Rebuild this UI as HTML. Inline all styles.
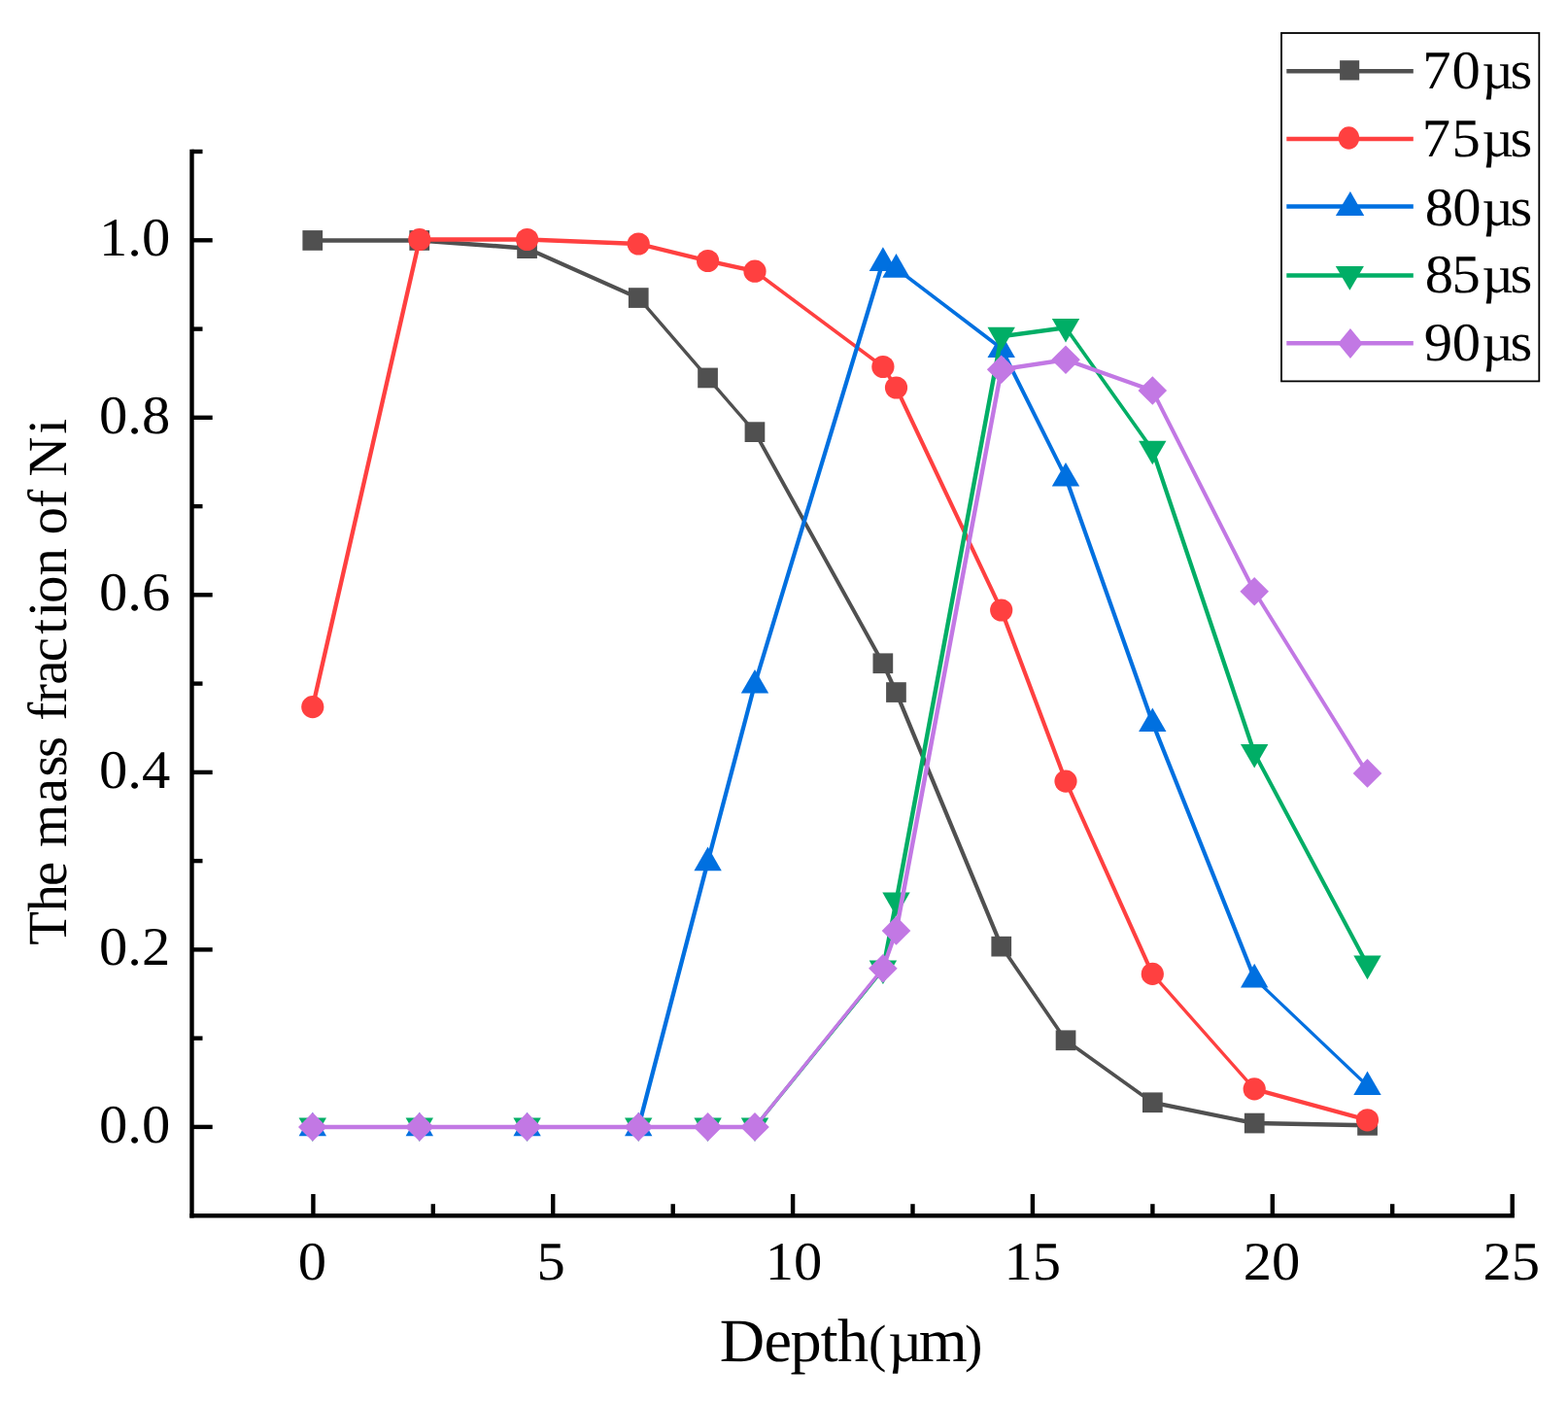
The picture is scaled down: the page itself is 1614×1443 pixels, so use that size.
<!DOCTYPE html>
<html><head><meta charset="utf-8"><title>The mass fraction of Ni vs Depth</title>
<style>html,body{margin:0;padding:0;background:#fff;overflow:hidden;}svg{display:block;}</style></head>
<body><svg width="1614" height="1443" viewBox="0 0 1614 1443">
<rect width="1614" height="1443" fill="#fff"/>
<g stroke="#000" stroke-width="4.4" fill="none">
<line x1="197.5" y1="153.8" x2="197.5" y2="1253.4"/>
<line x1="195.3" y1="1251.2" x2="1558.9" y2="1251.2"/>
<line x1="197.5" y1="1159.9" x2="218.7" y2="1159.9"/>
<line x1="197.5" y1="1068.6" x2="208.5" y2="1068.6"/>
<line x1="197.5" y1="977.4" x2="218.7" y2="977.4"/>
<line x1="197.5" y1="886.1" x2="208.5" y2="886.1"/>
<line x1="197.5" y1="794.9" x2="218.7" y2="794.9"/>
<line x1="197.5" y1="703.6" x2="208.5" y2="703.6"/>
<line x1="197.5" y1="612.3" x2="218.7" y2="612.3"/>
<line x1="197.5" y1="521.1" x2="208.5" y2="521.1"/>
<line x1="197.5" y1="429.8" x2="218.7" y2="429.8"/>
<line x1="197.5" y1="338.6" x2="208.5" y2="338.6"/>
<line x1="197.5" y1="247.3" x2="218.7" y2="247.3"/>
<line x1="197.5" y1="156.0" x2="208.5" y2="156.0"/>
<line x1="322.4" y1="1251.2" x2="322.4" y2="1229.0"/>
<line x1="445.8" y1="1251.2" x2="445.8" y2="1239.2"/>
<line x1="569.2" y1="1251.2" x2="569.2" y2="1229.0"/>
<line x1="692.7" y1="1251.2" x2="692.7" y2="1239.2"/>
<line x1="816.1" y1="1251.2" x2="816.1" y2="1229.0"/>
<line x1="939.5" y1="1251.2" x2="939.5" y2="1239.2"/>
<line x1="1062.9" y1="1251.2" x2="1062.9" y2="1229.0"/>
<line x1="1186.4" y1="1251.2" x2="1186.4" y2="1239.2"/>
<line x1="1309.8" y1="1251.2" x2="1309.8" y2="1229.0"/>
<line x1="1433.2" y1="1251.2" x2="1433.2" y2="1239.2"/>
<line x1="1556.7" y1="1251.2" x2="1556.7" y2="1229.0"/>
</g>
<text text-rendering="geometricPrecision" font-family="Liberation Serif, 'Times New Roman', serif" font-size="56.0" transform="translate(102.07,1175.90) scale(1.0455,1)" x="0.00 28.00 42.00" y="0">0.0</text>
<text text-rendering="geometricPrecision" font-family="Liberation Serif, 'Times New Roman', serif" font-size="56.0" transform="translate(102.07,993.38) scale(1.0455,1)" x="0.00 28.00 42.00" y="0">0.2</text>
<text text-rendering="geometricPrecision" font-family="Liberation Serif, 'Times New Roman', serif" font-size="56.0" transform="translate(102.07,810.86) scale(1.0455,1)" x="0.00 28.00 42.00" y="0">0.4</text>
<text text-rendering="geometricPrecision" font-family="Liberation Serif, 'Times New Roman', serif" font-size="56.0" transform="translate(102.07,628.34) scale(1.0455,1)" x="0.00 28.00 42.00" y="0">0.6</text>
<text text-rendering="geometricPrecision" font-family="Liberation Serif, 'Times New Roman', serif" font-size="56.0" transform="translate(102.07,445.82) scale(1.0455,1)" x="0.00 28.00 42.00" y="0">0.8</text>
<text text-rendering="geometricPrecision" font-family="Liberation Serif, 'Times New Roman', serif" font-size="56.0" transform="translate(102.07,263.30) scale(1.0455,1)" x="0.00 28.00 42.00" y="0">1.0</text>
<text text-rendering="geometricPrecision" font-family="Liberation Serif, 'Times New Roman', serif" font-size="56.0" transform="translate(306.87,1316.50) scale(1.0455,1)" x="0.00" y="0">0</text>
<text text-rendering="geometricPrecision" font-family="Liberation Serif, 'Times New Roman', serif" font-size="56.0" transform="translate(552.40,1316.50) scale(1.0455,1)" x="0.00" y="0">5</text>
<text text-rendering="geometricPrecision" font-family="Liberation Serif, 'Times New Roman', serif" font-size="56.0" transform="translate(787.65,1316.50) scale(1.0455,1)" x="0.00 28.00" y="0">10</text>
<text text-rendering="geometricPrecision" font-family="Liberation Serif, 'Times New Roman', serif" font-size="56.0" transform="translate(1033.45,1316.50) scale(1.0455,1)" x="0.00 28.00" y="0">15</text>
<text text-rendering="geometricPrecision" font-family="Liberation Serif, 'Times New Roman', serif" font-size="56.0" transform="translate(1279.83,1316.50) scale(1.0455,1)" x="0.00 28.00" y="0">20</text>
<text text-rendering="geometricPrecision" font-family="Liberation Serif, 'Times New Roman', serif" font-size="56.0" transform="translate(1526.53,1316.50) scale(1.0455,1)" x="0.00 28.00" y="0">25</text>
<text text-rendering="geometricPrecision" font-family="Liberation Serif, 'Times New Roman', serif" font-size="63" transform="translate(740.65,1401.20) scale(1.02,1)" x="0.00 44.94 71.49 101.98 119.04 150.32 170.18 201.18 247.33" y="0">Depth<tspan font-size="54">(</tspan><tspan font-size="60">µ</tspan>m<tspan font-size="54">)</tspan></text>
<text text-rendering="geometricPrecision" font-family="Liberation Serif, 'Times New Roman', serif" font-size="56.8" transform="translate(67.70,971.80) rotate(-90) scale(1.0,1)" x="-1.03 33.35 59.88 85.09 99.71 145.50 172.37 191.77 213.87 229.95 248.87 267.10 290.44 319.15 337.21 350.74 379.30 407.70 421.24 449.15 468.07 481.06 525.11" y="0">The mass fraction of Ni</text>
<path d="M321.8,245.2 L431.8,245.2 L431.8,249.7 L321.8,249.7Z M431.8,245.2 L542.6,253.4 L542.6,257.9 L431.8,249.7Z M542.6,253.4 L657.2,304.4 L657.2,308.9 L542.6,257.9Z M655.0,306.6 L726.4,389.0 L730.9,389.0 L659.5,306.6Z M726.4,389.0 L774.8,444.7 L779.2,444.7 L730.9,389.0Z M774.8,444.7 L906.6,682.8 L911.1,682.8 L779.2,444.7Z M906.6,682.8 L920.2,712.6 L924.8,712.6 L911.1,682.8Z M920.2,712.6 L1028.5,974.1 L1033.0,974.1 L924.8,712.6Z M1028.5,974.1 L1094.8,1070.7 L1099.2,1070.7 L1033.0,974.1Z M1097.0,1068.5 L1186.3,1132.5 L1186.3,1137.0 L1097.0,1073.0Z M1186.3,1132.5 L1291.2,1153.8 L1291.2,1158.2 L1186.3,1137.0Z M1291.2,1153.8 L1407.5,1156.0 L1407.5,1160.5 L1291.2,1158.2Z" fill="#505050"/>
<rect x="311.4" y="237.1" width="20.7" height="20.7" fill="#505050"/>
<rect x="421.4" y="237.1" width="20.7" height="20.7" fill="#505050"/>
<rect x="532.2" y="245.3" width="20.7" height="20.7" fill="#505050"/>
<rect x="646.9" y="296.2" width="20.7" height="20.7" fill="#505050"/>
<rect x="718.2" y="378.6" width="20.7" height="20.7" fill="#505050"/>
<rect x="766.6" y="434.3" width="20.7" height="20.7" fill="#505050"/>
<rect x="898.5" y="672.4" width="20.7" height="20.7" fill="#505050"/>
<rect x="912.1" y="702.2" width="20.7" height="20.7" fill="#505050"/>
<rect x="1020.4" y="963.8" width="20.7" height="20.7" fill="#505050"/>
<rect x="1086.7" y="1060.4" width="20.7" height="20.7" fill="#505050"/>
<rect x="1176.0" y="1124.4" width="20.7" height="20.7" fill="#505050"/>
<rect x="1280.9" y="1145.7" width="20.7" height="20.7" fill="#505050"/>
<rect x="1397.2" y="1148.0" width="20.7" height="20.7" fill="#505050"/>
<path d="M319.6,727.6 L429.6,246.5 L434.1,246.5 L324.1,727.6Z M431.8,244.2 L542.6,244.2 L542.6,248.8 L431.8,248.8Z M542.6,244.2 L657.2,248.8 L657.2,253.2 L542.6,248.8Z M657.2,248.8 L728.6,266.2 L728.6,270.8 L657.2,253.2Z M728.6,266.2 L777.0,276.9 L777.0,281.4 L728.6,270.8Z M777.0,276.9 L908.9,375.2 L908.9,379.8 L777.0,281.4Z M906.6,377.5 L920.2,399.0 L924.8,399.0 L911.1,377.5Z M920.2,399.0 L1028.5,628.0 L1033.0,628.0 L924.8,399.0Z M1028.5,628.0 L1094.8,804.1 L1099.2,804.1 L1033.0,628.0Z M1094.8,804.1 L1184.0,1002.4 L1188.5,1002.4 L1099.2,804.1Z M1184.0,1002.4 L1289.0,1120.9 L1293.5,1120.9 L1188.5,1002.4Z M1291.2,1118.7 L1407.5,1150.5 L1407.5,1155.0 L1291.2,1123.2Z" fill="#FF4040"/>
<circle cx="321.8" cy="727.6" r="11.6" fill="#FF4040"/>
<circle cx="431.8" cy="246.5" r="11.6" fill="#FF4040"/>
<circle cx="542.6" cy="246.5" r="11.6" fill="#FF4040"/>
<circle cx="657.2" cy="251.0" r="11.6" fill="#FF4040"/>
<circle cx="728.6" cy="268.5" r="11.6" fill="#FF4040"/>
<circle cx="777.0" cy="279.2" r="11.6" fill="#FF4040"/>
<circle cx="908.9" cy="377.5" r="11.6" fill="#FF4040"/>
<circle cx="922.5" cy="399.0" r="11.6" fill="#FF4040"/>
<circle cx="1030.7" cy="628.0" r="11.6" fill="#FF4040"/>
<circle cx="1097.0" cy="804.1" r="11.6" fill="#FF4040"/>
<circle cx="1186.3" cy="1002.4" r="11.6" fill="#FF4040"/>
<circle cx="1291.2" cy="1120.9" r="11.6" fill="#FF4040"/>
<circle cx="1407.5" cy="1152.8" r="11.6" fill="#FF4040"/>
<path d="M655.0,1159.9 L726.4,886.8 L730.9,886.8 L659.5,1159.9Z M726.4,886.8 L774.8,704.1 L779.2,704.1 L730.9,886.8Z M774.8,704.1 L906.6,269.5 L911.1,269.5 L779.2,704.1Z M908.9,267.2 L922.5,274.1 L922.5,278.6 L908.9,271.8Z M922.5,274.1 L1030.7,356.2 L1030.7,360.8 L922.5,278.6Z M1028.5,358.5 L1094.8,491.2 L1099.2,491.2 L1033.0,358.5Z M1094.8,491.2 L1184.0,743.6 L1188.5,743.6 L1099.2,491.2Z M1184.0,743.6 L1289.0,1007.0 L1293.5,1007.0 L1188.5,743.6Z M1291.2,1004.8 L1407.5,1115.3 L1407.5,1119.8 L1291.2,1009.2Z" fill="#0070E0"/>
<polygon points="321.8,1144.7 336.0,1169.3 307.6,1169.3" fill="#0070E0"/>
<polygon points="431.8,1144.7 446.0,1169.3 417.6,1169.3" fill="#0070E0"/>
<polygon points="542.6,1144.7 556.8,1169.3 528.4,1169.3" fill="#0070E0"/>
<polygon points="657.2,1144.7 671.4,1169.3 643.0,1169.3" fill="#0070E0"/>
<polygon points="728.6,871.6 742.8,896.2 714.4,896.2" fill="#0070E0"/>
<polygon points="777.0,688.9 791.2,713.5 762.8,713.5" fill="#0070E0"/>
<polygon points="908.9,254.3 923.1,278.9 894.7,278.9" fill="#0070E0"/>
<polygon points="922.5,261.1 936.7,285.7 908.3,285.7" fill="#0070E0"/>
<polygon points="1030.7,343.3 1044.9,367.9 1016.5,367.9" fill="#0070E0"/>
<polygon points="1097.0,476.0 1111.2,500.6 1082.8,500.6" fill="#0070E0"/>
<polygon points="1186.3,728.4 1200.5,753.0 1172.1,753.0" fill="#0070E0"/>
<polygon points="1291.2,991.8 1305.4,1016.4 1277.0,1016.4" fill="#0070E0"/>
<polygon points="1407.5,1102.4 1421.7,1127.0 1393.3,1127.0" fill="#0070E0"/>
<path d="M774.8,1159.9 L906.6,997.8 L911.1,997.8 L779.2,1159.9Z M906.6,997.8 L920.2,928.0 L924.8,928.0 L911.1,997.8Z M920.2,928.0 L1028.5,346.1 L1033.0,346.1 L924.8,928.0Z M1030.7,343.9 L1097.0,335.1 L1097.0,339.6 L1030.7,348.4Z M1094.8,337.3 L1184.0,463.1 L1188.5,463.1 L1099.2,337.3Z M1184.0,463.1 L1289.0,775.3 L1293.5,775.3 L1188.5,463.1Z M1289.0,775.3 L1405.2,993.0 L1409.8,993.0 L1293.5,775.3Z" fill="#00AE66"/>
<polygon points="321.8,1175.1 336.0,1150.5 307.6,1150.5" fill="#00AE66"/>
<polygon points="431.8,1175.1 446.0,1150.5 417.6,1150.5" fill="#00AE66"/>
<polygon points="542.6,1175.1 556.8,1150.5 528.4,1150.5" fill="#00AE66"/>
<polygon points="657.2,1175.1 671.4,1150.5 643.0,1150.5" fill="#00AE66"/>
<polygon points="728.6,1175.1 742.8,1150.5 714.4,1150.5" fill="#00AE66"/>
<polygon points="777.0,1175.1 791.2,1150.5 762.8,1150.5" fill="#00AE66"/>
<polygon points="908.9,1013.0 923.1,988.4 894.7,988.4" fill="#00AE66"/>
<polygon points="922.5,943.2 936.7,918.6 908.3,918.6" fill="#00AE66"/>
<polygon points="1030.7,361.3 1044.9,336.7 1016.5,336.7" fill="#00AE66"/>
<polygon points="1097.0,352.5 1111.2,327.9 1082.8,327.9" fill="#00AE66"/>
<polygon points="1186.3,478.3 1200.5,453.7 1172.1,453.7" fill="#00AE66"/>
<polygon points="1291.2,790.5 1305.4,765.9 1277.0,765.9" fill="#00AE66"/>
<polygon points="1407.5,1008.2 1421.7,983.6 1393.3,983.6" fill="#00AE66"/>
<path d="M321.8,1157.7 L431.8,1157.7 L431.8,1162.2 L321.8,1162.2Z M431.8,1157.7 L542.6,1157.7 L542.6,1162.2 L431.8,1162.2Z M542.6,1157.7 L657.2,1157.7 L657.2,1162.2 L542.6,1162.2Z M657.2,1157.7 L728.6,1157.7 L728.6,1162.2 L657.2,1162.2Z M728.6,1157.7 L777.0,1157.7 L777.0,1162.2 L728.6,1162.2Z M774.8,1159.9 L906.6,996.7 L911.1,996.7 L779.2,1159.9Z M906.6,996.7 L920.2,957.9 L924.8,957.9 L911.1,996.7Z M920.2,957.9 L1028.5,380.3 L1033.0,380.3 L924.8,957.9Z M1030.7,378.1 L1097.0,367.9 L1097.0,372.4 L1030.7,382.6Z M1097.0,367.9 L1186.3,399.8 L1186.3,404.2 L1097.0,372.4Z M1184.0,402.0 L1289.0,608.8 L1293.5,608.8 L1188.5,402.0Z M1289.0,608.8 L1405.2,795.9 L1409.8,795.9 L1293.5,608.8Z" fill="#C278E4"/>
<polygon points="321.8,1145.1 336.6,1159.9 321.8,1174.7 307.0,1159.9" fill="#C278E4"/>
<polygon points="431.8,1145.1 446.6,1159.9 431.8,1174.7 417.0,1159.9" fill="#C278E4"/>
<polygon points="542.6,1145.1 557.4,1159.9 542.6,1174.7 527.8,1159.9" fill="#C278E4"/>
<polygon points="657.2,1145.1 672.0,1159.9 657.2,1174.7 642.4,1159.9" fill="#C278E4"/>
<polygon points="728.6,1145.1 743.4,1159.9 728.6,1174.7 713.8,1159.9" fill="#C278E4"/>
<polygon points="777.0,1145.1 791.8,1159.9 777.0,1174.7 762.2,1159.9" fill="#C278E4"/>
<polygon points="908.9,981.9 923.7,996.7 908.9,1011.5 894.1,996.7" fill="#C278E4"/>
<polygon points="922.5,943.1 937.3,957.9 922.5,972.7 907.7,957.9" fill="#C278E4"/>
<polygon points="1030.7,365.5 1045.5,380.3 1030.7,395.1 1015.9,380.3" fill="#C278E4"/>
<polygon points="1097.0,355.4 1111.8,370.2 1097.0,385.0 1082.2,370.2" fill="#C278E4"/>
<polygon points="1186.3,387.2 1201.1,402.0 1186.3,416.8 1171.5,402.0" fill="#C278E4"/>
<polygon points="1291.2,594.0 1306.0,608.8 1291.2,623.6 1276.4,608.8" fill="#C278E4"/>
<polygon points="1407.5,781.1 1422.3,795.9 1407.5,810.7 1392.7,795.9" fill="#C278E4"/>
<rect x="1319" y="34" width="265.3" height="358.4" fill="none" stroke="#000" stroke-width="1.8"/>
<line x1="1324.3" y1="73.3" x2="1454.8" y2="73.3" stroke="#505050" stroke-width="4.5"/>
<rect x="1379.1" y="62.2" width="20.1" height="20.3" fill="#505050"/>
<text text-rendering="geometricPrecision" font-family="Liberation Serif, 'Times New Roman', serif" font-size="56.0" transform="translate(1464.24,90.80) scale(1.0455,1)" x="0.00 29.01 58.57 86.43" y="0">70<tspan font-size="54">µ</tspan>s</text>
<line x1="1324.3" y1="142.9" x2="1454.8" y2="142.9" stroke="#FF4040" stroke-width="4.5"/>
<ellipse cx="1388.4" cy="142.0" rx="10.75" ry="11.65" fill="#FF4040"/>
<text text-rendering="geometricPrecision" font-family="Liberation Serif, 'Times New Roman', serif" font-size="56.0" transform="translate(1463.74,161.20) scale(1.0455,1)" x="0.00 29.51 59.05 86.90" y="0">75<tspan font-size="54">µ</tspan>s</text>
<line x1="1324.3" y1="212.5" x2="1454.8" y2="212.5" stroke="#0070E0" stroke-width="4.5"/>
<polygon points="1389.9,197.1 1404.2,221.9 1374.9,221.9" fill="#0070E0"/>
<text text-rendering="geometricPrecision" font-family="Liberation Serif, 'Times New Roman', serif" font-size="56.0" transform="translate(1466.77,231.70) scale(1.0455,1)" x="0.00 27.16 56.16 84.01" y="0">80<tspan font-size="54">µ</tspan>s</text>
<line x1="1324.3" y1="283.4" x2="1454.8" y2="283.4" stroke="#00AE66" stroke-width="4.5"/>
<polygon points="1389.4,298.7 1403.9,274.1 1374.8,274.1" fill="#00AE66"/>
<text text-rendering="geometricPrecision" font-family="Liberation Serif, 'Times New Roman', serif" font-size="56.0" transform="translate(1466.77,301.40) scale(1.0455,1)" x="0.00 26.62 56.16 84.01" y="0">85<tspan font-size="54">µ</tspan>s</text>
<line x1="1324.3" y1="353.3" x2="1454.8" y2="353.3" stroke="#C278E4" stroke-width="4.5"/>
<polygon points="1389.95,338.0 1402.7,353.45 1389.95,368.9 1377.2,353.45" fill="#C278E4"/>
<text text-rendering="geometricPrecision" font-family="Liberation Serif, 'Times New Roman', serif" font-size="56.0" transform="translate(1465.71,371.20) scale(1.0455,1)" x="0.00 27.70 57.17 85.02" y="0">90<tspan font-size="54">µ</tspan>s</text>
</svg></body></html>
